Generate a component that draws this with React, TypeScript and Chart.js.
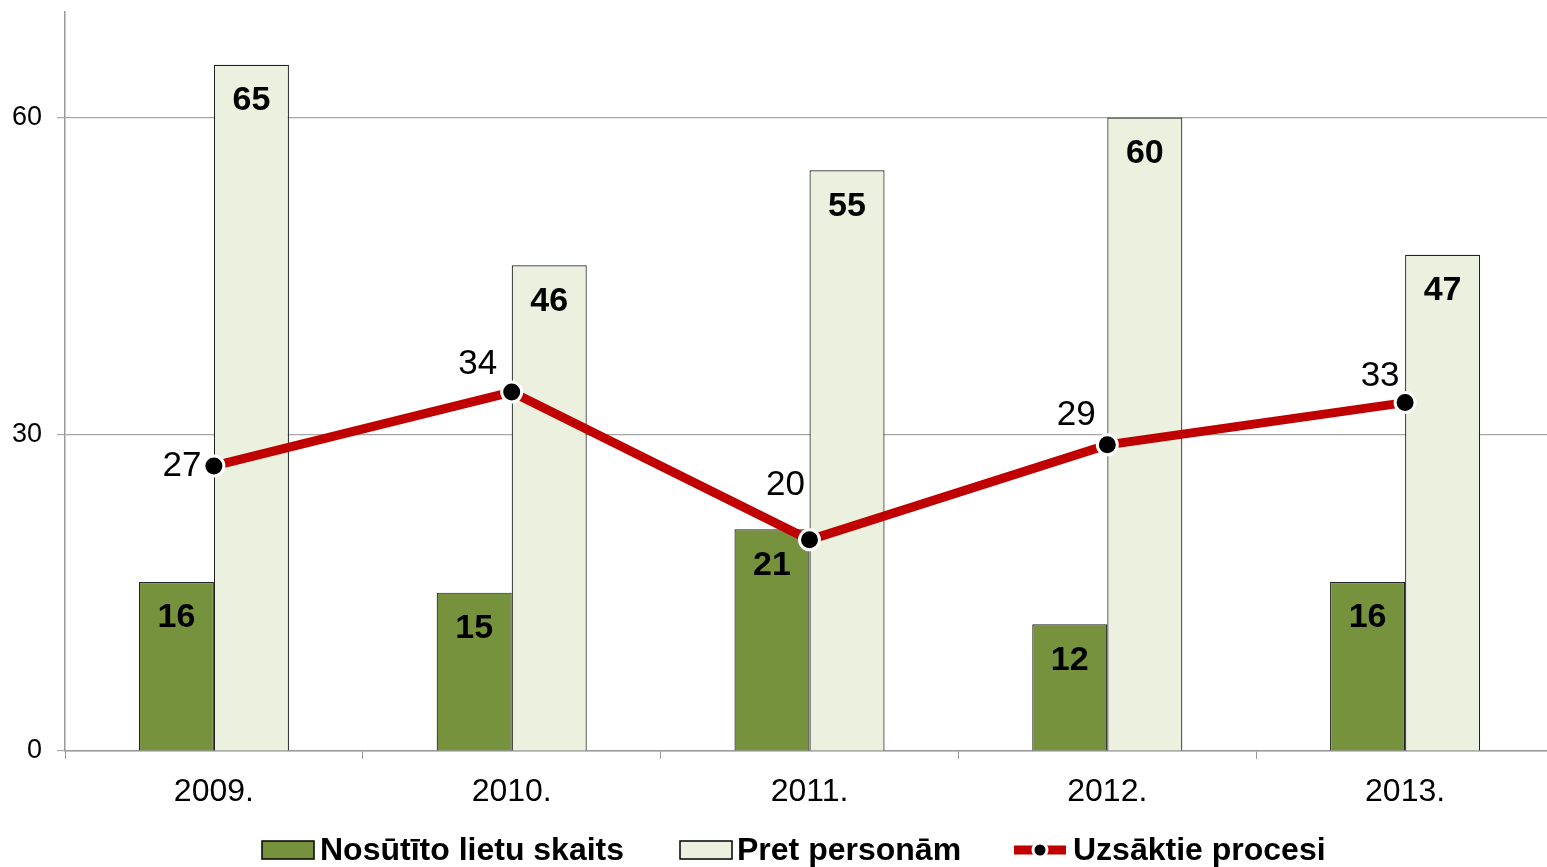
import React, { useEffect, useRef } from "react";
import { Chart, registerables } from "chart.js";

Chart.register(...registerables);

const categories = ["2009.", "2010.", "2011.", "2012.", "2013."];
const sentCases = [16, 15, 21, 12, 16];
const againstPersons = [65, 46, 55, 60, 47];
const startedProcesses = [27, 34, 20, 29, 33];
const yTicks = [0, 30, 60];

const seriesNames = ["Nosūtīto lietu skaits", "Pret personām", "Uzsāktie procesi"];

const FONT = "'Liberation Sans', Arial, sans-serif";
const GREEN = "#76923C";
const LIGHT = "#EBF1DE";
const RED = "#C00000";

// label offsets for line values (center of text relative to point)
const lineLabelOffsets: [number, number][] = [
  [-32, 0],
  [-34, -28],
  [-24, -55],
  [-31, -29],
  [-25, -26],
];

const labelsPlugin = {
  id: "valueLabels",
  afterDatasetsDraw(chart: any) {
    const ctx = chart.ctx;
    ctx.save();
    ctx.fillStyle = "#000";
    ctx.textAlign = "center";
    ctx.textBaseline = "middle";
    [0, 1].forEach((di) => {
      const meta = chart.getDatasetMeta(di);
      const data = chart.data.datasets[di].data;
      ctx.font = `bold 34px ${FONT}`;
      meta.data.forEach((el: any, i: number) => {
        ctx.fillText(String(data[i]), el.x, el.y + 36);
      });
    });
    const lm = chart.getDatasetMeta(2);
    const ld = chart.data.datasets[2].data;
    ctx.font = `35px ${FONT}`;
    lm.data.forEach((el: any, i: number) => {
      const [dx, dy] = lineLabelOffsets[i];
      ctx.fillText(String(ld[i]), el.x + dx, el.y + dy);
    });
    ctx.restore();
  },
};

const legendPlugin = {
  id: "customLegend",
  afterDraw(chart: any) {
    const ctx = chart.ctx;
    const cy = 850;
    ctx.save();
    ctx.font = `bold 32px ${FONT}`;
    ctx.textBaseline = "middle";
    ctx.textAlign = "left";
    ctx.fillStyle = GREEN;
    ctx.fillRect(262, cy - 9, 52, 18);
    ctx.strokeStyle = "#000";
    ctx.lineWidth = 1.5;
    ctx.strokeRect(262, cy - 9, 52, 18);
    ctx.fillStyle = "#000";
    ctx.fillText(seriesNames[0], 320, cy + 1);
    ctx.fillStyle = LIGHT;
    ctx.fillRect(680, cy - 9, 52, 18);
    ctx.strokeRect(680, cy - 9, 52, 18);
    ctx.fillStyle = "#000";
    ctx.fillText(seriesNames[1], 737, cy + 1);
    ctx.strokeStyle = RED;
    ctx.lineWidth = 9;
    ctx.beginPath();
    ctx.moveTo(1014, cy);
    ctx.lineTo(1066, cy);
    ctx.stroke();
    ctx.beginPath();
    ctx.arc(1040, cy, 7, 0, Math.PI * 2);
    ctx.fillStyle = "#000";
    ctx.fill();
    ctx.lineWidth = 3;
    ctx.strokeStyle = "#fff";
    ctx.stroke();
    ctx.fillStyle = "#000";
    ctx.fillText(seriesNames[2], 1073, cy + 1);
    ctx.restore();
  },
};

const CANVAS_W = 1554;

export default function App() {
  const ref = useRef<HTMLCanvasElement>(null);
  useEffect(() => {
    if (!ref.current) return;
    const chart = new Chart(ref.current, {
      type: "bar",
      data: {
        labels: categories,
        datasets: [
          {
            label: seriesNames[0],
            data: sentCases,
            backgroundColor: GREEN,
            borderColor: "#222",
            borderWidth: 1.2,
            categoryPercentage: 0.504,
            barPercentage: 1,
            order: 1,
          },
          {
            label: seriesNames[1],
            data: againstPersons,
            backgroundColor: LIGHT,
            borderColor: "#222",
            borderWidth: 1.2,
            categoryPercentage: 0.504,
            barPercentage: 1,
            order: 1,
          },
          {
            type: "line",
            label: seriesNames[2],
            data: startedProcesses,
            borderColor: RED,
            borderWidth: 9,
            pointRadius: 10,
            pointBackgroundColor: "#000",
            pointBorderColor: "#fff",
            pointBorderWidth: 3,
            tension: 0,
            clip: false,
            order: 0,
          } as any,
        ],
      },
      options: {
        animation: false,
        responsive: false,
        maintainAspectRatio: false,
        layout: { autoPadding: false, padding: { top: 12, right: 0, bottom: 56, left: 0 } },
        plugins: {
          legend: { display: false },
          tooltip: { enabled: false },
        },
        scales: {
          x: {
            offset: true,
            afterFit: (s: any) => {
              s.height = 60;
              s.paddingLeft = 0;
              s.paddingRight = 0;
            },
            grid: {
              offset: true,
              drawOnChartArea: false,
              tickLength: 8,
              color: "#9a9a9a",
            },
            border: { color: "#9a9a9a", width: 1.5 },
            ticks: {
              color: "#000",
              font: { family: FONT, size: 32 },
              padding: 14,
            },
          },
          y: {
            min: 0,
            max: 70,
            afterFit: (s: any) => {
              s.width = 65;
              s.paddingTop = 0;
              s.paddingBottom = 0;
            },
            afterBuildTicks: (s: any) => {
              s.ticks = yTicks.map((v) => ({ value: v }));
            },
            grid: { color: "#a6a6a6", tickLength: 8, lineWidth: 1.2 },
            border: { color: "#9a9a9a", width: 1.5 },
            ticks: {
              color: "#000",
              font: { family: FONT, size: 27 },
              padding: 15,
            },
          },
        },
      },
      plugins: [labelsPlugin, legendPlugin],
    });
    return () => chart.destroy();
  }, []);
  return (
    <div
      style={{
        position: "fixed",
        left: 0,
        top: 0,
        width: 1547,
        height: 867,
        overflow: "hidden",
        background: "#fff",
      }}
    >
      <canvas ref={ref} width={CANVAS_W} height={867} style={{ width: CANVAS_W, height: 867, display: "block" }} />
    </div>
  );
}
